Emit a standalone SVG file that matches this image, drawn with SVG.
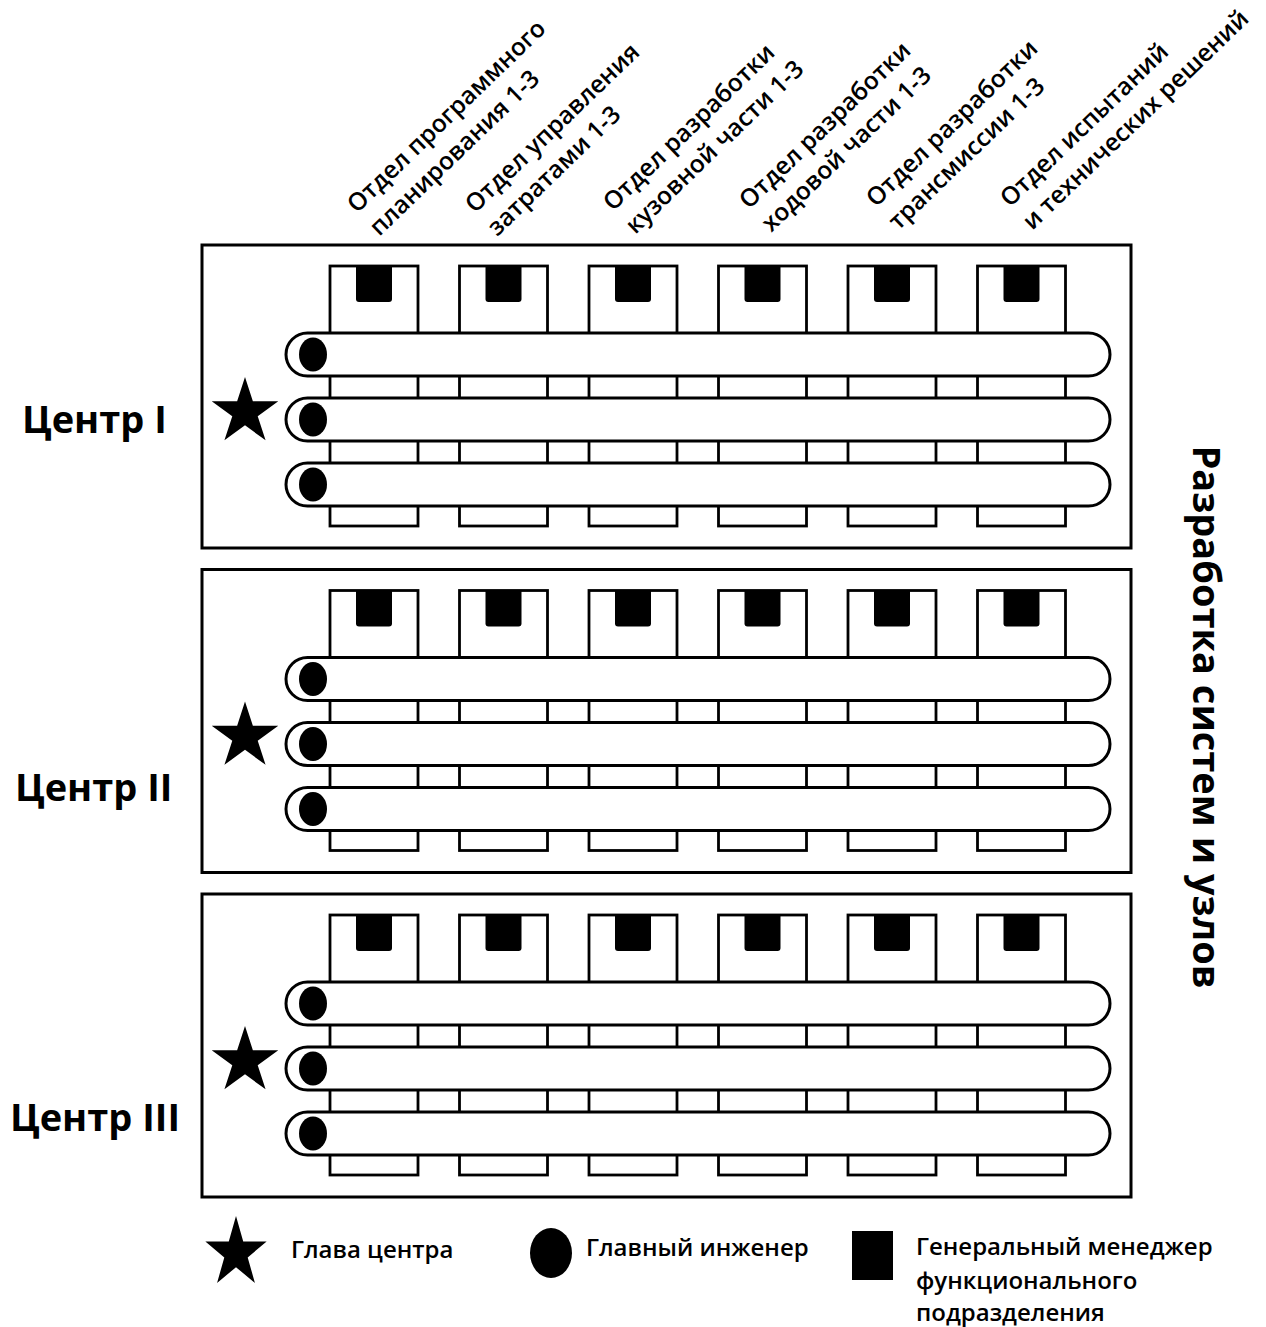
<svg xmlns="http://www.w3.org/2000/svg" xmlns:xlink="http://www.w3.org/1999/xlink" width="1266" height="1327" viewBox="0 0 1266 1327">
  <style>
    .frame { fill: none; stroke: #000; stroke-width: 3; }
    .col { fill: #fff; stroke: #000; stroke-width: 2.8; }
    .lane { fill: #fff; stroke: #000; stroke-width: 3; }
    .solid { fill: #000; stroke: none; }
    .dept { font-family: "Open Sans", "Noto Sans", "DejaVu Sans", sans-serif; font-size: 24.5px; font-weight: 600; fill: #000; }
    .center { font-family: "Open Sans", "Noto Sans", "DejaVu Sans", sans-serif; font-size: 38px; font-weight: 700; fill: #000; }
    .legend { font-family: "Open Sans", "Noto Sans", "DejaVu Sans", sans-serif; font-size: 24px; font-weight: 600; fill: #000; }
  </style>
  <defs>
    <!-- five-pointed star, outer radius 35, centred on the origin -->
    <path id="star" d="M0,-35 L7.86,-10.82 L33.29,-10.82 L12.72,4.13 L20.57,28.32 L0,13.37 L-20.57,28.32 L-12.72,4.13 L-33.29,-10.82 L-7.86,-10.82 Z"/>
    <!-- functional department column with its general manager square -->
    <g id="column">
      <rect class="col" x="0" y="22" width="88" height="260"/>
      <path class="solid" d="M26,22 H62 V55 Q62,58 59,58 H29 Q26,58 26,55 Z"/>
    </g>
    <!-- project lane with its chief engineer -->
    <g id="lane">
      <rect class="lane" x="286" y="0" width="824" height="43" rx="21.5" ry="21.5"/>
      <ellipse class="solid" cx="313" cy="21.5" rx="14" ry="17"/>
    </g>
    <!-- one development centre -->
    <g id="centre">
      <rect class="frame" x="202" y="1" width="929" height="303"/>
      <use xlink:href="#column" x="330"/>
      <use xlink:href="#column" x="459.5"/>
      <use xlink:href="#column" x="589"/>
      <use xlink:href="#column" x="718.5"/>
      <use xlink:href="#column" x="848"/>
      <use xlink:href="#column" x="977.5"/>
      <use xlink:href="#lane" y="89"/>
      <use xlink:href="#lane" y="154"/>
      <use xlink:href="#lane" y="219"/>
      <use xlink:href="#star" class="solid" x="245" y="168"/>
    </g>
  </defs>

  <rect x="0" y="0" width="1266" height="1327" fill="#fff"/>

  <!-- department headings -->
  <g id="dept-headings">
    <text class="dept" transform="translate(357,214) rotate(-44)"><tspan x="0" y="0">Отдел программного</tspan><tspan x="0" y="32">планирования 1-3</tspan></text>
    <text class="dept" transform="translate(475,214) rotate(-44)"><tspan x="0" y="0">Отдел управления</tspan><tspan x="0" y="32">затратами 1-3</tspan></text>
    <text class="dept" transform="translate(613,212) rotate(-44)"><tspan x="0" y="0">Отдел разработки</tspan><tspan x="0" y="32">кузовной части 1-3</tspan></text>
    <text class="dept" transform="translate(749,210) rotate(-44)"><tspan x="0" y="0">Отдел разработки</tspan><tspan x="0" y="32">ходовой части 1-3</tspan></text>
    <text class="dept" transform="translate(876,208) rotate(-44)"><tspan x="0" y="0">Отдел разработки</tspan><tspan x="0" y="32">трансмиссии 1-3</tspan></text>
    <text class="dept" transform="translate(1010,208) rotate(-44)"><tspan x="0" y="0">Отдел испытаний</tspan><tspan x="0" y="32">и технических решений</tspan></text>
  </g>

  <!-- development centres -->
  <g id="centre-1">
    <use xlink:href="#centre" y="244"/>
    <text class="center" x="22" y="433">Центр I</text>
  </g>
  <g id="centre-2">
    <use xlink:href="#centre" y="568.5"/>
    <text class="center" x="15" y="801">Центр II</text>
  </g>
  <g id="centre-3">
    <use xlink:href="#centre" y="893"/>
    <text class="center" x="10" y="1131">Центр III</text>
  </g>

  <!-- side caption -->
  <g id="side-caption">
    <text class="center" text-anchor="middle" transform="translate(1193,717) rotate(90)">Разработка систем и узлов</text>
  </g>

  <g id="connectors"/>

  <!-- legend -->
  <g id="legend">
    <use xlink:href="#star" class="solid" transform="translate(236,1253) scale(0.92,1.06)"/>
    <text class="legend" x="291" y="1258">Глава центра</text>
    <ellipse class="solid" cx="551" cy="1253" rx="21" ry="25"/>
    <text class="legend" x="586" y="1256">Главный инженер</text>
    <rect class="solid" x="852" y="1231" width="41" height="49"/>
    <text class="legend" x="916" y="1255">Генеральный менеджер</text>
    <text class="legend" x="916" y="1289">функционального</text>
    <text class="legend" x="916" y="1321">подразделения</text>
  </g>
</svg>
